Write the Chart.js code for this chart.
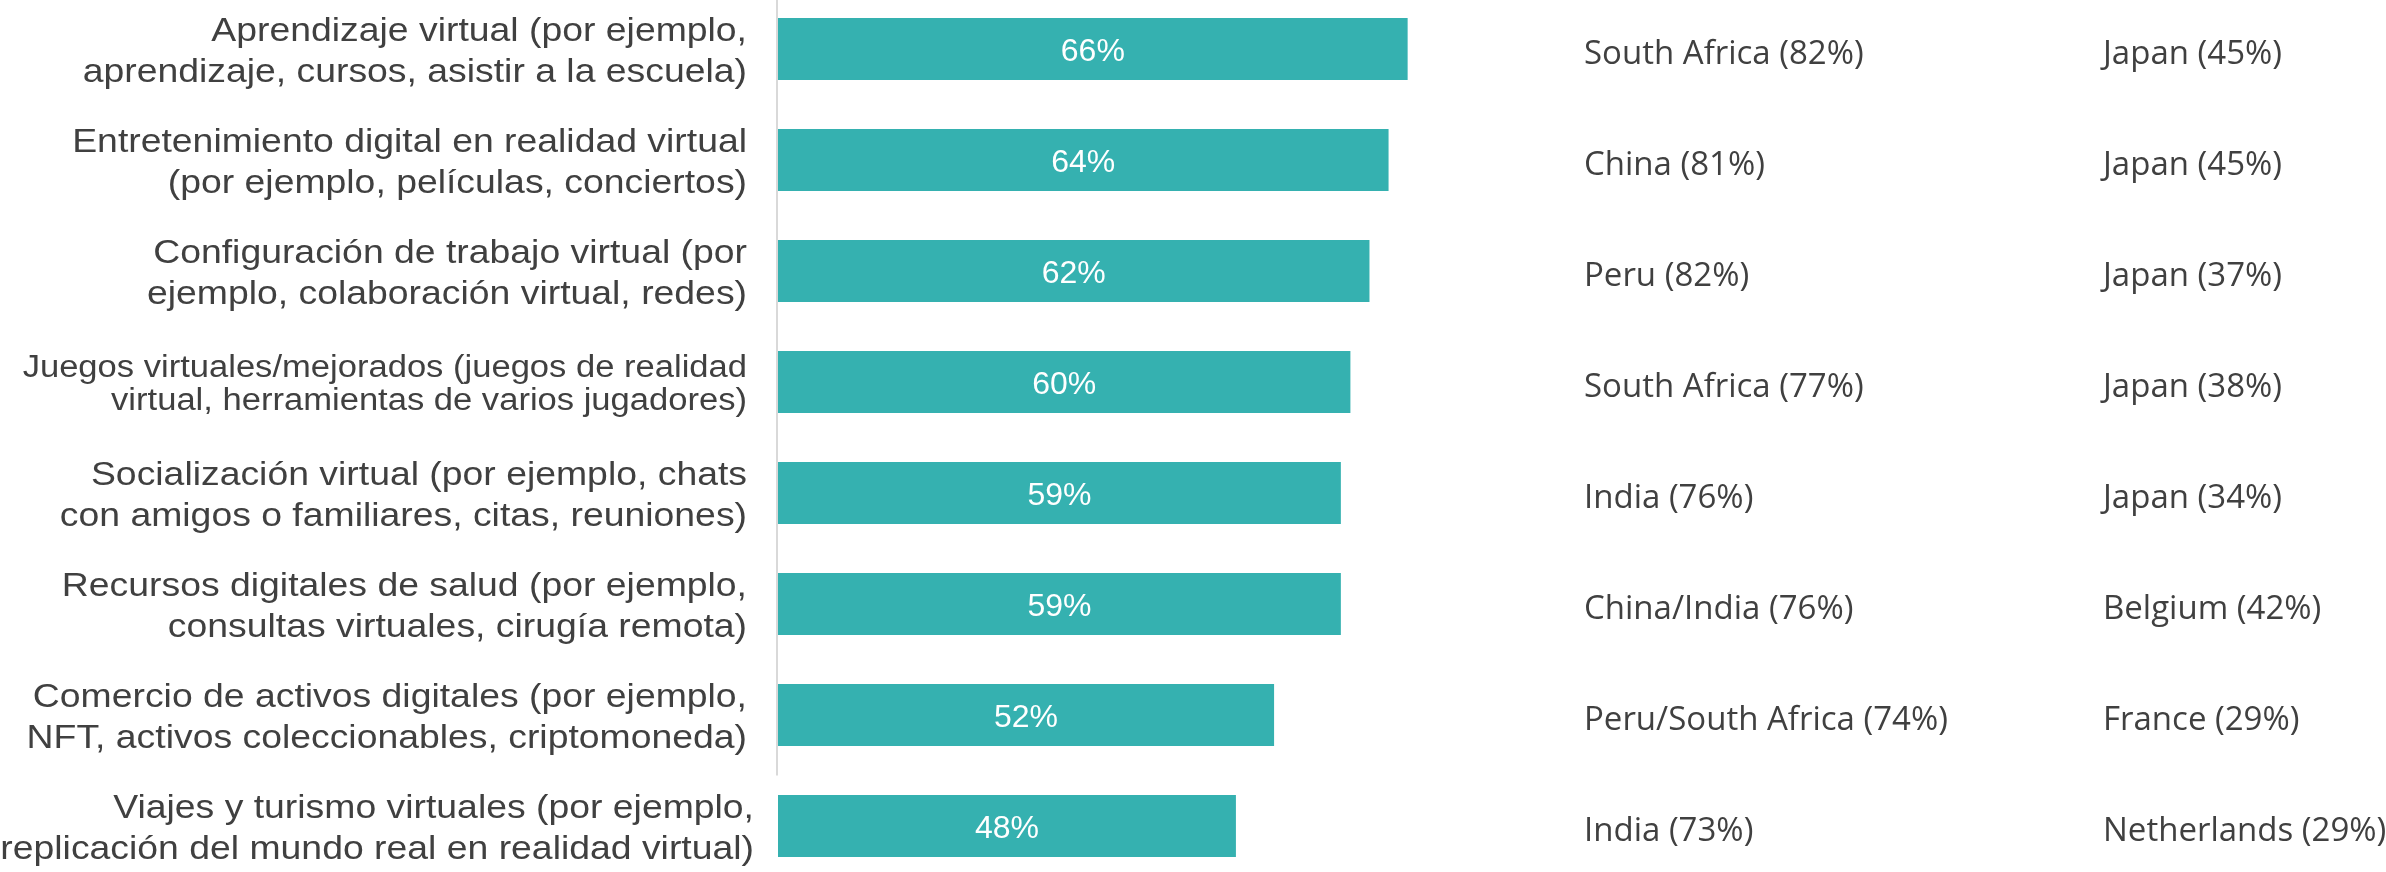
<!DOCTYPE html>
<html lang="es">
<head>
<meta charset="utf-8">
<title>Usos virtuales</title>
<script src="https://cdn.jsdelivr.net/npm/chart.js@4.4.1/dist/chart.umd.min.js"></script>
<style>
  html, body { margin: 0; padding: 0; background: #fff; }
  #contenedor { width: 2386px; height: 872px; position: relative; }
</style>
</head>
<body>
<div id="contenedor"><canvas id="grafico"></canvas></div>
<script>
// Categorías (cada una en dos líneas, como en el original)
const categorias = [
    ['Aprendizaje virtual (por ejemplo,', 'aprendizaje, cursos, asistir a la escuela)'],
    ['Entretenimiento digital en realidad virtual', '(por ejemplo, películas, conciertos)'],
    ['Configuración de trabajo virtual (por', 'ejemplo, colaboración virtual, redes)'],
    ['Juegos virtuales/mejorados (juegos de realidad', 'virtual, herramientas de varios jugadores)'],
    ['Socialización virtual (por ejemplo, chats', 'con amigos o familiares, citas, reuniones)'],
    ['Recursos digitales de salud (por ejemplo,', 'consultas virtuales, cirugía remota)'],
    ['Comercio de activos digitales (por ejemplo,', 'NFT, activos coleccionables, criptomoneda)'],
    ['Viajes y turismo virtuales (por ejemplo,', 'replicación del mundo real en realidad virtual)']
];
const valores = [66, 64, 62, 60, 59, 59, 52, 48];
const paisMayor = ['South Africa (82%)', 'China (81%)', 'Peru (82%)', 'South Africa (77%)',
    'India (76%)', 'China/India (76%)', 'Peru/South Africa (74%)', 'India (73%)'];
const paisMenor = ['Japan (45%)', 'Japan (45%)', 'Japan (37%)', 'Japan (38%)',
    'Japan (34%)', 'Belgium (42%)', 'France (29%)', 'Netherlands (29%)'];

const COLOR_BARRA = '#35b1b0';
const COLOR_TEXTO = '#404040';
const FUENTE_ARIAL = '"Liberation Sans", Arial, sans-serif';
const FUENTE_COLUMNAS = '"Open Sans", "Noto Sans", sans-serif';

// La 4ª etiqueta va algo más pequeña y apretada en el original
const estiloNormal = { tam: 33.5, arriba: -8.5, interlinea: 41.5 };
const estiloReducido = { tam: 31, arriba: -5, interlinea: 33 };
// la última etiqueta llega un poco más a la derecha
const margenEtiqueta = (i) => (i === 7 ? 24 : 31);

// Línea vertical del eje (no llega hasta la última categoría)
const lineaEje = {
    id: 'lineaEje',
    beforeDatasetsDraw(chart) {
        const { ctx, chartArea, scales: { y } } = chart;
        ctx.save();
        ctx.strokeStyle = '#d9d9d9';
        ctx.lineWidth = 2;
        ctx.beginPath();
        ctx.moveTo(chartArea.left - 1, 0);
        ctx.lineTo(chartArea.left - 1, y.getPixelForValue(6.5) + 5);
        ctx.stroke();
        ctx.restore();
    }
};

// Etiquetas de categoría: Arial algo ensanchada, alineada a la derecha
const etiquetasCategoria = {
    id: 'etiquetasCategoria',
    afterDraw(chart) {
        const { ctx, chartArea, scales: { y } } = chart;
        ctx.save();
        ctx.fillStyle = COLOR_TEXTO;
        ctx.textAlign = 'right';
        ctx.textBaseline = 'alphabetic';
        categorias.forEach((lineas, i) => {
            const est = i === 3 ? estiloReducido : estiloNormal;
            const yc = y.getPixelForValue(i);
            ctx.font = est.tam + 'px ' + FUENTE_ARIAL;
            lineas.forEach((texto, k) => {
                ctx.save();
                ctx.translate(chartArea.left - margenEtiqueta(i), yc + est.arriba + k * est.interlinea);
                ctx.scale(1.115, 1);
                ctx.fillText(texto, 0, 0);
                ctx.restore();
            });
        });
        ctx.restore();
    }
};

// Porcentaje dentro de cada barra y las dos columnas de países
const textosBarras = {
    id: 'textosBarras',
    afterDatasetsDraw(chart) {
        const { ctx } = chart;
        const meta = chart.getDatasetMeta(0);
        ctx.save();
        meta.data.forEach((barra, i) => {
            ctx.font = '32px ' + FUENTE_ARIAL;
            ctx.fillStyle = '#ffffff';
            ctx.textAlign = 'center';
            ctx.textBaseline = 'alphabetic';
            ctx.fillText(valores[i] + '%', (barra.x + barra.base) / 2, barra.y + 12);

            ctx.font = '33px ' + FUENTE_COLUMNAS;
            ctx.fillStyle = COLOR_TEXTO;
            ctx.textAlign = 'left';
            ctx.fillText(paisMayor[i], 1584, barra.y + 15);
            ctx.fillText(paisMenor[i], 2103, barra.y + 15);
        });
        ctx.restore();
    }
};

new Chart(document.getElementById('grafico'), {
    type: 'bar',
    data: {
        labels: categorias,
        datasets: [{
            data: valores,
            backgroundColor: COLOR_BARRA,
            borderWidth: 0,
            barPercentage: 0.56,
            categoryPercentage: 1,
            clip: false
        }]
    },
    options: {
        indexAxis: 'y',
        responsive: true,
        maintainAspectRatio: false,
        animation: false,
        devicePixelRatio: 1,
        layout: { padding: { left: 778, right: 654, top: 49, bottom: 46 } },
        plugins: {
            legend: { display: false },
            tooltip: { enabled: false }
        },
        scales: {
            x: { min: 0, max: 100, display: false },
            y: { type: 'category', offset: false, display: false }
        }
    },
    plugins: [lineaEje, etiquetasCategoria, textosBarras]
});
</script>
</body>
</html>
